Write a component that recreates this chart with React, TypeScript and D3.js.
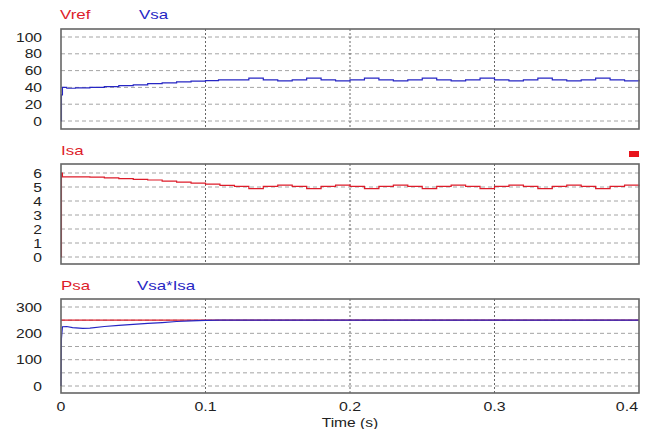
import * as d3 from 'd3';

// time axis ticks
const timeTicks = [0, 0.1, 0.2, 0.3, 0.4];
const timeLabels = ['0', '0.1', '0.2', '0.3', '0.4'];

// panel 1 : Vsa (V)
const vTicks = [0, 20, 40, 60, 80, 100];
const vsaT = [0, 0.0003, 0.001, 0.004, 0.01, 0.02, 0.03, 0.04, 0.05, 0.06, 0.07, 0.08, 0.09, 0.1, 0.109,
  0.13, 0.14, 0.15, 0.16, 0.17, 0.18, 0.19, 0.2, 0.21, 0.22, 0.23, 0.24, 0.25, 0.26, 0.27, 0.28,
  0.29, 0.3, 0.31, 0.32, 0.33, 0.34, 0.35, 0.36, 0.37, 0.38, 0.39, 0.4];
const vsaV = [0, 31, 40, 39, 39.5, 40, 41, 42, 43, 44.5, 45.5, 46.5, 47.5, 48, 49,
  51, 49, 47.8, 49, 51, 49, 47.8, 49, 51, 49, 47.8, 49, 51, 49, 47.8, 49,
  51, 49, 47.8, 49, 51, 49, 47.8, 49, 51, 49, 47.8, 49];

// panel 2 : Isa (A)
const iTicks = [0, 1, 2, 3, 4, 5, 6];
const isaT = [0, 0.0003, 0.001, 0.02, 0.03, 0.04, 0.05, 0.06, 0.07, 0.08, 0.09, 0.1, 0.11, 0.12,
  0.13, 0.14, 0.15, 0.16, 0.17, 0.18, 0.19, 0.2, 0.21, 0.22, 0.23, 0.24, 0.25, 0.26, 0.27, 0.28,
  0.29, 0.3, 0.31, 0.32, 0.33, 0.34, 0.35, 0.36, 0.37, 0.38, 0.39, 0.4];
const isaV = [0, 6.0, 5.72, 5.7, 5.65, 5.6, 5.55, 5.5, 5.42, 5.35, 5.27, 5.2, 5.12, 5.05,
  4.88, 5.05, 5.13, 5.05, 4.88, 5.05, 5.13, 5.05, 4.88, 5.05, 5.13, 5.05, 4.88, 5.05, 5.13, 5.05,
  4.88, 5.05, 5.13, 5.05, 4.88, 5.05, 5.13, 5.05, 4.88, 5.05, 5.13, 5.05];

// panel 3 : power (W)
const pGrid = [0, 50, 100, 150, 200, 250, 300];
const pTicks = [0, 100, 200, 300];
const psaT = [0, 0.4];
const psaV = [250, 250];
const viT = [0, 0.0003, 0.001, 0.004, 0.008, 0.015, 0.02, 0.03, 0.04, 0.05, 0.06, 0.07, 0.08, 0.09, 0.1, 0.11, 0.4];
const viV = [0, 180, 225, 226, 222, 219, 220, 226, 230, 234, 238, 241, 245, 247, 249, 250, 250];

const RED = '#dd1c2a';
const BLUE = '#2626c4';
const FONT = '"Liberation Sans", Arial, sans-serif';

const x = d3.scaleLinear().domain([0, 0.4]).range([61, 639]);

const panels = [
  { top: 29, bottom: 129, y: d3.scaleLinear().domain([0, 100]).range([121, 37]), grid: vTicks, ticks: vTicks },
  { top: 164, bottom: 264, y: d3.scaleLinear().domain([0, 6]).range([257, 173]), grid: iTicks, ticks: iTicks },
  { top: 299, bottom: 393, y: d3.scaleLinear().domain([0, 300]).range([386, 307]), grid: pGrid, ticks: pTicks },
];

const pts = (t: number[], v: number[]) => t.map((d, i) => [d, v[i]] as [number, number]);

const Label = ({ x, y, s, children, fill = '#222', size = 13, anchor = 'start' }: any) => (
  <text transform={`translate(${x},${y}) scale(${s},1)`} fill={fill} fontSize={size}
    fontFamily={FONT} textAnchor={anchor}>{children}</text>
);

export default function App() {
  const lineFor = (y: d3.ScaleLinear<number, number>, curve: d3.CurveFactory) =>
    d3.line<[number, number]>().x(d => x(d[0])).y(d => y(d[1])).curve(curve);

  return (
    <svg width={652} height={429} style={{ position: 'absolute', left: 0, top: 0, background: '#fff' }}>
      {panels.map((p, k) => (
        <g key={k}>
          <rect x={61} y={p.top} width={578} height={p.bottom - p.top} fill="#fff" />
          {p.grid.map(v => (
            <line key={v} x1={61} x2={639} y1={p.y(v)} y2={p.y(v)}
              stroke="#9a9a9a" strokeDasharray="4,3" strokeWidth={0.9} />
          ))}
          {timeTicks.slice(1, 4).map(t => (
            <line key={t} x1={x(t)} x2={x(t)} y1={p.top} y2={p.bottom}
              stroke="#555" strokeDasharray="2,2" strokeWidth={0.9} />
          ))}
          {p.ticks.map(v => (
            <Label key={v} x={42} y={p.y(v) + 4.5} s={1.2} anchor="end">{v}</Label>
          ))}
        </g>
      ))}

      {/* curves */}
      <path d={lineFor(panels[0].y, d3.curveStepAfter)(pts(vsaT, vsaV)) || ''} fill="none" stroke={BLUE} strokeWidth={1.2} />
      <path d={lineFor(panels[1].y, d3.curveStepAfter)(pts(isaT, isaV)) || ''} fill="none" stroke={RED} strokeWidth={1.2} />
      <path d={lineFor(panels[2].y, d3.curveLinear)(pts(psaT, psaV)) || ''} fill="none" stroke={RED} strokeWidth={1.2} />
      <path d={lineFor(panels[2].y, d3.curveLinear)(pts(viT, viV)) || ''} fill="none" stroke={BLUE} strokeWidth={1.2} />

      {panels.map((p, k) => (
        <rect key={k} x={61} y={p.top} width={578} height={p.bottom - p.top}
          fill="none" stroke="#666" strokeWidth={1.6} />
      ))}

      {/* legends */}
      <Label x={60} y={19} s={1.3} fill={RED}>Vref</Label>
      <Label x={139} y={19} s={1.3} fill={BLUE}>Vsa</Label>
      <Label x={61} y={155} s={1.3} fill={RED}>Isa</Label>
      <rect x={629} y={151} width={10} height={6} fill="#e8141c" />
      <Label x={61} y={290} s={1.3} fill={RED}>Psa</Label>
      <Label x={137} y={290} s={1.3} fill={BLUE}>Vsa*Isa</Label>

      {/* time axis */}
      {timeTicks.map((t, i) => (
        <Label key={t} x={i === timeTicks.length - 1 ? x(t) - 1 : x(t)} y={411} s={1.18} size={13.5}
          anchor={i === timeTicks.length - 1 ? 'end' : 'middle'}>{timeLabels[i]}</Label>
      ))}
      <Label x={x(0.2)} y={426.5} s={1.2} size={13} anchor="middle">Time (s)</Label>
    </svg>
  );
}
